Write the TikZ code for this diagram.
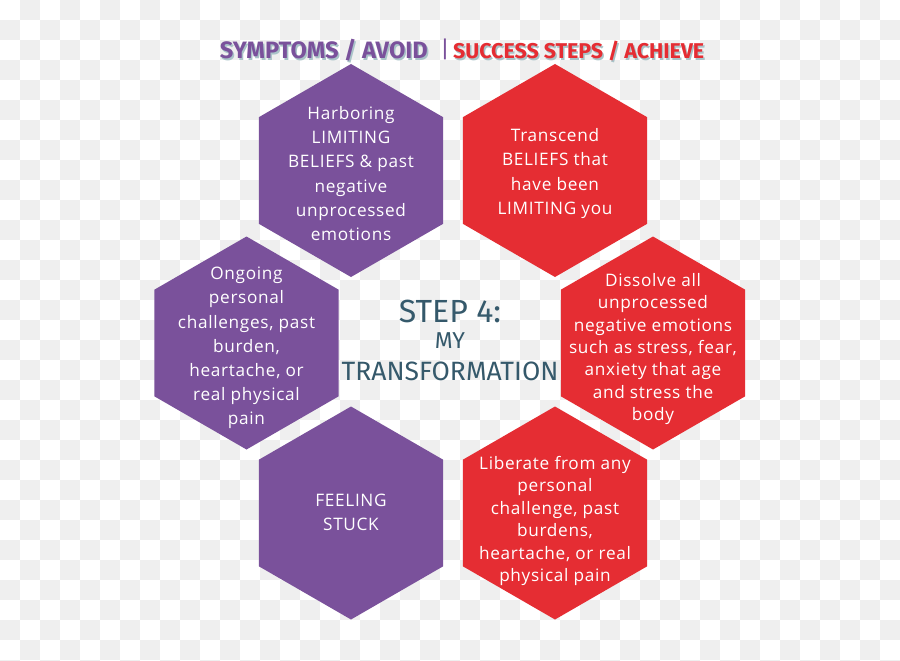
\documentclass[tikz,border=0pt]{standalone}
\usepackage{fontspec}
\newfontfamily\hexfont{Open Sans}[LetterSpace=4]
\newfontfamily\headfont{Fira Sans}
\usetikzlibrary{shapes.geometric, positioning}
\definecolor{hexpurple}{HTML}{7A519B}
\definecolor{hexred}{HTML}{E52D33}
\definecolor{steptext}{HTML}{35596B}
\definecolor{checkgrey}{HTML}{EFEFEF}
\definecolor{titleshadow}{HTML}{A9C3C8}

\begin{document}
\begin{tikzpicture}[x=1pt, y=-1pt,
    hexbox/.style={regular polygon, regular polygon sides=6, shape border rotate=30, minimum size=213pt, inner sep=0pt, draw=none},
    purplehex/.style={hexbox, fill=hexpurple},
    redhex/.style={hexbox, fill=hexred},
    hextext/.style={text=white, align=center, inner sep=0pt, font=\hexfont\fontsize{17.2}{24.2}\selectfont},
    tighttext/.style={hextext, font=\hexfont\fontsize{17.2}{22.4}\selectfont},
    title/.style={inner sep=0pt, font=\headfont\bfseries\fontsize{22.5}{26}\selectfont},
    steplabel/.style={anchor=base, inner sep=0pt, text=steptext}
]
    % Background
    \useasboundingbox (0,0) rectangle (900,661);
    \clip (0,0) rectangle (900,661);
    \fill[white] (0,0) rectangle (900,661);
    \foreach \i in {0,...,44} {
        \foreach \j in {0,...,33} {
            \pgfmathtruncatemacro\odd{mod(\i+\j,2)}
            \ifnum\odd=1 \fill[checkgrey] (20*\i,20*\j) rectangle ++(20,20); \fi
        }
    }

    % Heading
    \node[title, anchor=base east, text=titleshadow] (avoidshadow) at (429.5,60.5) {\resizebox{208pt}{!}{SYMPTOMS / AVOID}};
    \node[title, anchor=base west, text=titleshadow] (achieveshadow) at (454.5,60.5) {\resizebox{251pt}{!}{SUCCESS STEPS / ACHIEVE}};
    \node[title, anchor=base east, text=hexpurple] (avoid) at (428,59) {\resizebox{208pt}{!}{SYMPTOMS / AVOID}};
    \node[title, anchor=base, text=hexpurple, font=\headfont\fontsize{23}{26}\selectfont] (bar) at (445,58) {|};
    \node[title, anchor=base west, text=hexred] (achieve) at (453,59) {\resizebox{251pt}{!}{SUCCESS STEPS / ACHIEVE}};

    % Hexagons
    \node[purplehex] (limiting) at (351,170.5) {};
    \node[redhex] (transcend) at (555,170.5) {};
    \node[purplehex] (ongoing) at (246.5,343) {};
    \node[redhex] (dissolve) at (653,343) {};
    \node[purplehex] (stuck) at (351,513) {};
    \node[redhex] (liberate) at (555,513) {};

    % Texts
    \node[hextext] (limitingtext) at (351,173.5) {Harboring\\LIMITING\\BELIEFS \& past\\negative\\unprocessed\\emotions};
    \node[hextext] (transcendtext) at (555,173.5) {Transcend\\BELIEFS that\\have been\\LIMITING you};
    \node[hextext] (ongoingtext) at (246.5,348) {Ongoing\\personal\\challenges, past\\burden,\\heartache, or\\real physical\\pain};
    \node[tighttext] (dissolvetext) at (653,349) {Dissolve all\\unprocessed\\negative emotions\\such as stress, fear,\\anxiety that age\\and stress the\\body};
    \node[hextext] (stucktext) at (351,512) {FEELING\\STUCK};
    \node[tighttext] (liberatetext) at (555,521) {Liberate from any\\personal\\challenge, past\\burdens,\\heartache, or real\\physical pain};

    % Centre
    \node[steplabel, font=\headfont\fontsize{32}{36}\selectfont] (step) at (450,322) {STEP 4:};
    \node[steplabel, font=\headfont\fontsize{23}{26}\selectfont] (my) at (450,348) {MY};
    \node[steplabel, font=\headfont\fontsize{26.5}{30}\selectfont] (transform) at (450,380) {TRANSFORMATION};
\end{tikzpicture}
\end{document}
